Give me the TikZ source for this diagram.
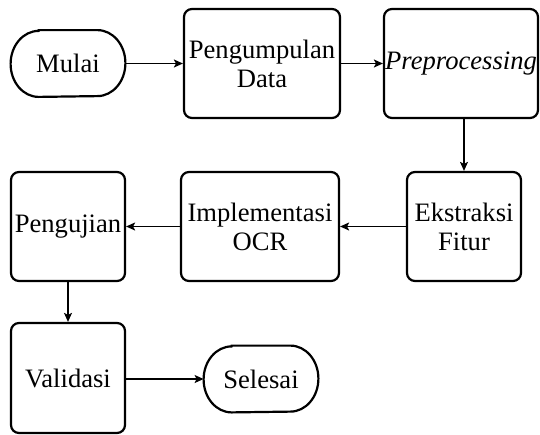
\documentclass[tikz,border=0pt]{standalone}
\usepackage{fontspec}
\setmainfont{Liberation Serif}
\newfontfamily\tnr{Liberation Serif}
\usetikzlibrary{arrows.meta}
\begin{document}
\begin{tikzpicture}[x=0.5pt,y=-0.5pt,
  txt/.style={align=center, font=\tnr\fontsize{13.3}{14.5}\selectfont, inner sep=0pt},
  box/.style={txt, draw, line width=1.1pt, rounded corners=4pt, minimum height=54.5pt},
  term/.style={txt, minimum width=57pt, minimum height=33pt},
  termline/.style={line width=1.1pt},
  conn/.style={-{Stealth[length=4.5pt,width=4pt,inset=1pt]}, line width=0.6pt}]
\useasboundingbox (0,0) rectangle (540,434);

\node[term] (mulai) at (68,63.5) {Mulai};
\node[box, minimum width=78pt] (data) at (262,63.5) {Pengumpulan\\Data};
\node[box, minimum width=77pt] (prep) at (461,63.5) {\textit{Preprocessing}};
\node[box, minimum width=57pt] (fitur) at (464,226.5) {Ekstraksi\\Fitur};
\node[box, minimum width=79pt] (ocr) at (260,226.5) {Implementasi\\OCR};
\node[box, minimum width=57pt] (uji) at (68,226.5) {Pengujian};
\node[box, minimum width=57pt, minimum height=55pt] (valid) at (68,378) {Validasi};
\node[term] (selesai) at (261,379) {Selesai};

\foreach \t in {mulai,selesai}{
  \draw[termline] ([xshift=14pt]\t.north west) -- ([xshift=-14pt]\t.north east)
    arc[start angle=90, end angle=-90, x radius=14pt, y radius=16.5pt]
    -- ([xshift=14pt]\t.south west)
    arc[start angle=270, end angle=90, x radius=14pt, y radius=16.5pt] -- cycle;
}

\draw[conn] (mulai) -- (data);
\draw[conn] (data) -- (prep);
\draw[conn] (fitur.north |- prep.south) -- (fitur.north);
\draw[conn] (fitur) -- (ocr);
\draw[conn] (ocr) -- (uji);
\draw[conn] (uji) -- (valid);
\draw[conn] (valid.east |- selesai.west) -- (selesai);
\end{tikzpicture}
\end{document}
